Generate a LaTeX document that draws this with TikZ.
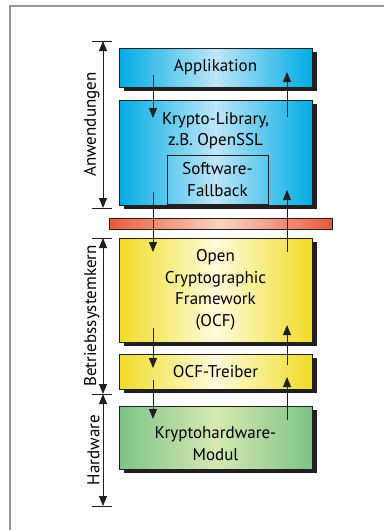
\documentclass[tikz,border=0pt]{standalone}
\usepackage{fontspec}
\setmainfont{PT Sans}
\usetikzlibrary{arrows.meta,shadows}

\definecolor{boxline}{RGB}{35,31,32}
\definecolor{frameline}{RGB}{150,150,150}
\definecolor{blueedge}{RGB}{0,172,228}
\definecolor{bluemid}{RGB}{190,230,248}
\definecolor{yellowedge}{RGB}{240,220,40}
\definecolor{yellowmid}{RGB}{255,251,220}
\definecolor{greenedge}{RGB}{125,196,135}
\definecolor{greenmid}{RGB}{215,232,180}
\definecolor{rededge}{RGB}{232,90,62}
\definecolor{redmid}{RGB}{250,212,196}

\begin{document}
\begin{tikzpicture}[x=1pt, y=-1pt, >={Triangle[length=10pt,width=8pt]},
  boxtext/.style={font=\fontsize{17}{21.5}\selectfont, align=center},
  layer/.style={rectangle, draw=boxline, line width=0.9pt, minimum width=193pt, inner sep=0pt, boxtext,
    drop shadow={shadow xshift=5pt, shadow yshift=-4pt, fill=boxline, opacity=1}},
  appbox/.style={layer, left color=blueedge, right color=blueedge, middle color=bluemid},
  kernbox/.style={layer, left color=yellowedge, right color=yellowedge, middle color=yellowmid},
  hwbox/.style={layer, left color=greenedge, right color=greenedge, middle color=greenmid},
  sysbar/.style={rectangle, draw=boxline, line width=0.9pt, minimum width=223pt, minimum height=11pt, inner sep=0pt,
    left color=rededge, right color=rededge, middle color=redmid},
  flow/.style={->, draw=boxline, line width=0.9pt},
  span/.style={<->, draw=boxline, line width=0.9pt},
  tick/.style={draw=boxline, line width=0.9pt}]

  \useasboundingbox (0,0) rectangle (384,530);
  \draw[frameline, line width=1.3pt] (384,6) -- (10,6) -- (10,530);

  \node[appbox, minimum height=39pt] (app) at (215.5,67.5) {Applikation};
  \node[appbox, minimum height=105pt,
    label={[boxtext, anchor=north, yshift=-9pt]north:{Krypto-Library,\\z.B. OpenSSL}}] (lib) at (215.5,152.5) {};
  \node[rectangle, draw=boxline, line width=0.9pt, minimum width=101pt, minimum height=49pt, boxtext] (fallback) at (217.5,179.5) {Software-\\Fallback};
  \node[sysbar] (syscall) at (220.5,223.5) {};
  \node[kernbox, minimum height=104pt] (ocf) at (215.5,290) {Open\\Cryptographic\\Framework\\(OCF)};
  \node[kernbox, minimum height=35pt] (treiber) at (215.5,371.5) {OCF-Treiber};
  \node[hwbox, minimum height=63pt,
    label={[boxtext, anchor=center, yshift=-6pt]center:{Kryptohardware-\\Modul}}] (hw) at (215.5,437.5) {};

  % down path
  \coordinate (dn1) at (153,75);  \coordinate (dn2) at (153,118);
  \coordinate (dn3) at (153,192); \coordinate (dn4) at (153,252);
  \coordinate (dn5) at (153,328); \coordinate (dn6) at (153,368);
  \coordinate (dn7) at (153,380); \coordinate (dn8) at (153,419);
  % up path
  \coordinate (up1) at (287,117); \coordinate (up2) at (287,72);
  \coordinate (up3) at (287,252); \coordinate (up4) at (287,190);
  \coordinate (up5) at (287,365); \coordinate (up6) at (287,325);
  \coordinate (up7) at (287,420); \coordinate (up8) at (287,377);

  \draw[flow] (dn1) -- (dn2);
  \draw[flow] (dn3) -- (dn4);
  \draw[flow] (dn5) -- (dn6);
  \draw[flow] (dn7) -- (dn8);
  \draw[flow] (up1) -- (up2);
  \draw[flow] (up3) -- (up4);
  \draw[flow] (up5) -- (up6);
  \draw[flow] (up7) -- (up8);

  % layer brackets
  \coordinate (t1) at (103,41);
  \coordinate (t2) at (103,208);
  \coordinate (t3) at (103,238);
  \coordinate (t4) at (103,394);
  \coordinate (t5) at (103,506);
  \foreach \t in {t1,t2,t3,t4,t5}
    \draw[tick] ([xshift=-11pt]\t) -- ([xshift=9pt]\t);
  \draw[span] (t1) -- node[midway, rotate=90, anchor=south, inner sep=3pt, boxtext] {Anwendungen} (t2);
  \draw[span] (t3) -- node[midway, rotate=90, anchor=south, inner sep=3pt, boxtext] {Betriebssystemkern} (t4);
  \draw[span] (t4) -- node[midway, rotate=90, anchor=south, inner sep=3pt, boxtext] {Hardware} (t5);
\end{tikzpicture}
\end{document}
